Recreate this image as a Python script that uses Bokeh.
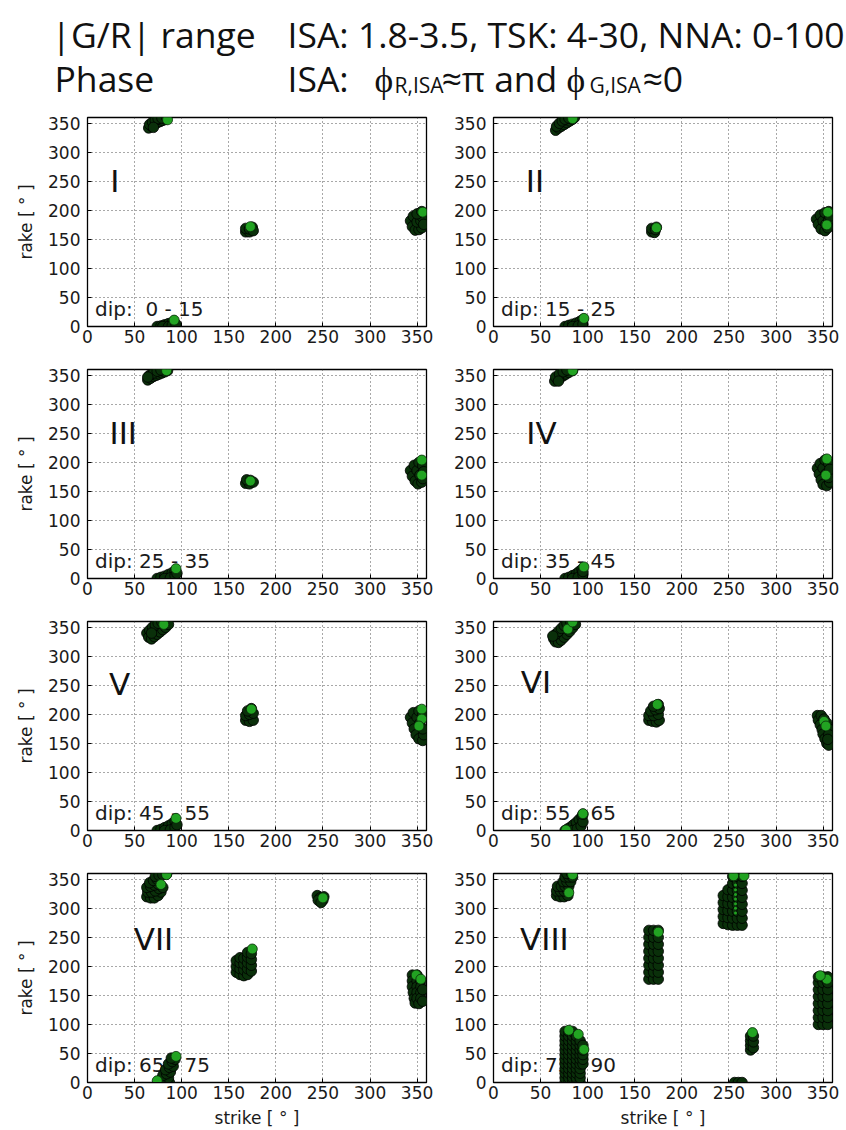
from bokeh.plotting import figure
from bokeh.layouts import column, row
from bokeh.models import Range1d, FixedTicker
from bokeh.core.properties import value
from bokeh.embed import file_html
from bokeh.resources import INLINE

# ---------------- data ----------------
axis_ticks = [0, 50, 100, 150, 200, 250, 300, 350]
panel_names = ["I", "II", "III", "IV", "V", "VI", "VII", "VIII"]
dip_labels = ["dip:\u00a0\u00a00 - 15", "dip: 15 - 25", "dip: 25 - 35", "dip: 35 - 45",
              "dip: 45 - 55", "dip: 55 - 65", "dip: 65 - 75", "dip: 75 - 90"]
name_strike = [29, 44, 38, 51, 34, 45, 70, 54]
name_rake = [250, 250, 250, 250, 253, 255, 247, 247]

dark_I = [(65,342),(68,345),(71,348),(74,351),(77,353),(80,355),(83,357),(66,348),(69,352),(72,355),(75,358),(79,359),(84,360),(70,343),
          (74,0),(78,1),(82,3),(86,5),(90,7),(80,0),(86,0),(90,2),(94,4),
          (168,163),(172,163),(168,169),(172,168),(175,171),(176,165),
          (343,182),(345,172),(348,166),(352,167),(355,170),(346,190),(350,180),(354,182),(356,188),(350,194),(355,198),(357,176)]
bright_I = [(85,356),(92,11),(173,172),(356,197)]

dark_II = [(66,338),(69,342),(72,345),(75,348),(78,351),(81,354),(84,357),(67,345),(70,350),(73,354),(76,357),(80,359),(86,360),
           (76,0),(80,2),(84,4),(88,6),(92,9),(95,12),(84,0),(90,1),(95,4),
           (168,163),(171,162),(168,169),(172,167),(173,171),
           (343,185),(345,176),(348,168),(352,165),(355,170),(347,192),(350,182),(353,176),(356,184),(352,196),(356,198),(357,190)]
bright_II = [(84,358),(96,14),(173,170),(355,197),(354,175)]

dark_III = [(64,342),(67,345),(70,348),(73,350),(76,352),(79,354),(82,356),(85,358),(66,350),(70,354),(74,357),(78,359),(64,347),
            (74,0),(78,2),(82,4),(86,7),(90,10),(93,13),(82,0),(88,1),(93,5),(95,9),
            (168,164),(172,163),(169,170),(173,169),(176,166),
            (343,186),(345,176),(348,168),(351,163),(355,166),(347,195),(350,186),(353,178),(356,172),(352,200),(356,194),(357,184)]
bright_III = [(84,358),(94,17),(173,168),(355,204),(355,178)]

dark_IV = [(65,340),(68,343),(71,346),(74,349),(77,352),(80,355),(84,358),(66,347),(70,352),(74,356),(78,359),(69,340),
           (76,0),(80,2),(84,5),(88,8),(91,12),(94,16),(84,0),(90,2),(95,7),(95,12),
           (344,190),(346,180),(348,170),(350,162),(354,160),(357,166),(347,198),(350,190),(353,180),(356,174),(352,204),(356,198),(357,188)]
bright_IV = [(84,358),(96,20),(354,206),(353,178)]

dark_V = [(63,340),(65,333),(68,330),(71,334),(74,338),(77,342),(80,346),(83,350),(86,355),(66,345),(69,350),(72,354),(75,357),(79,359),(68,340),
          (74,0),(78,2),(82,5),(86,8),(90,12),(93,16),(82,0),(88,1),(93,5),(95,10),
          (168,190),(172,188),(176,190),(168,198),(172,200),(176,202),(170,206),(174,210),
          (343,195),(345,185),(347,175),(349,165),(352,158),(356,155),(357,165),(346,203),(350,195),(353,185),(356,175),(352,206),(356,200)]
bright_V = [(81,355),(94,21),(174,209),(355,209),(355,192),(352,180)]

dark_VI = [(64,330),(66,325),(69,324),(72,328),(75,333),(78,338),(81,343),(84,349),(87,355),(66,338),(69,343),(72,348),(75,353),(78,357),(82,359),(63,335),
           (76,0),(79,3),(82,6),(85,10),(88,14),(91,19),(94,24),(84,0),(89,3),(93,8),(95,15),(95,28),
           (165,190),(169,188),(173,187),(176,190),(165,198),(170,198),(175,200),(167,206),(172,208),(176,210),(170,214),(175,217),
           (344,198),(345,190),(347,182),(349,174),(350,166),(352,158),(354,150),(356,147),(348,198),(351,192),(354,185),(356,175),(356,165),(355,157)]
bright_VI = [(79,347),(84,359),(95,29),(77,1),(174,217),(351,188),(353,180)]

dark_VII = [(63,320),(67,318),(71,318),(75,322),(78,328),(64,328),(68,328),(72,330),(76,334),(80,336),(63,336),(67,338),(71,340),(75,342),(66,344),(70,348),(74,350),(72,355),(76,357),(80,358),(84,359),
            (75,0),(79,0),(83,0),(87,0),(78,5),(82,6),(86,8),(80,12),(84,15),(88,18),(83,22),(87,26),(91,28),(86,32),(90,36),(93,40),(89,42),
            (158,190),(158,200),(158,210),(162,186),(162,196),(162,206),(162,215),(166,184),(166,194),(166,204),(166,214),(170,186),(170,196),(170,206),(170,216),(170,224),(174,192),(174,202),(174,212),(174,222),
            (244,322),(247,318),(250,314),(245,314),(248,310),(251,320),
            (345,185),(345,175),(345,165),(346,155),(347,145),(348,137),(350,185),(350,175),(350,165),(350,155),(350,145),(352,136),(354,175),(354,165),(354,155),(354,145),(356,140),(356,160)]
bright_VII = [(78,341),(84,358),(94,45),(74,3),(175,230),(250,318),(349,185),(354,178)]

dark_VIII = [(67,322),(71,320),(75,320),(79,322),(67,330),(71,330),(75,330),(79,330),(68,338),(72,338),(76,338),(80,338),(74,346),(78,346),(82,346),(76,354),(80,354),(84,354),(78,360),(83,360),
             (76,0),(76,8),(76,16),(76,24),(76,32),(76,40),(76,48),(76,56),(76,64),(76,72),(76,80),(76,88),
             (80,0),(80,8),(80,16),(80,24),(80,32),(80,40),(80,48),(80,56),(80,64),(80,72),(80,80),(80,88),
             (84,0),(84,8),(84,16),(84,24),(84,32),(84,40),(84,48),(84,56),(84,64),(84,72),(84,80),(84,88),
             (88,0),(88,8),(88,16),(88,24),(88,32),(88,40),(88,48),(88,56),(88,64),(88,72),(88,80),
             (92,0),(92,8),(92,16),(92,24),(92,32),(92,40),(92,48),(92,56),(92,64),(92,72),
             (95,32),(95,40),(95,48),(95,56),(95,64),
             (165,178),(165,190),(165,202),(165,214),(165,226),(165,238),(165,250),(165,262),
             (170,178),(170,190),(170,202),(170,214),(170,226),(170,238),(170,250),(170,262),
             (175,178),(175,190),(175,202),(175,214),(175,226),(175,238),(175,250),(175,262),
             (244,274),(244,286),(244,298),(244,310),(244,322),
             (249,272),(249,284),(249,296),(249,308),(249,320),(249,332),
             (254,271),(254,283),(254,295),(254,307),(254,319),(254,331),(254,343),(254,355),
             (259,271),(259,283),(259,295),(259,307),(259,319),(259,331),(259,343),(259,355),
             (264,271),(264,283),(264,295),(264,307),(264,319),(264,331),(264,343),(264,355),
             (273,56),(273,64),(273,72),(273,80),(276,60),(276,70),(276,80),
             (256,0),(260,0),(264,0),
             (345,100),(345,112),(345,124),(345,136),(345,148),(345,160),(345,172),(345,182),
             (350,100),(350,112),(350,124),(350,136),(350,148),(350,160),(350,172),(350,182),
             (355,100),(355,112),(355,124),(355,136),(355,148),(355,160),(355,172),(355,182)]
bright_VIII = [(80,327),(84,358),(80,90),(90,83),(96,57),(175,259),(255,356),(266,356),(275,86),(354,178),(347,184)]
trace_VIII = [(257,292),(257,300),(257,308),(257,316),(257,324),(257,332),(257,340)]

dark_sets = [dark_I, dark_II, dark_III, dark_IV, dark_V, dark_VI, dark_VII, dark_VIII]
bright_sets = [bright_I, bright_II, bright_III, bright_IV, bright_V, bright_VI, bright_VII, bright_VIII]
trace_sets = [[], [], [], [], [], [], [], trace_VIII]

# ---------------- styling ----------------
FONT = "DejaVu Sans"
DARK_FILL = "#0a300a"
BRIGHT_FILL = "#22a322"
FRAME_W, FRAME_H = 339, 209


def make_panel(i):
    left = (i % 2 == 0)
    bottom = (i >= 6)
    p = figure(frame_width=FRAME_W, frame_height=FRAME_H,
               x_range=Range1d(0, 360), y_range=Range1d(0, 360),
               output_backend="svg", toolbar_location=None,
               min_border_left=87 if left else 59,
               min_border_right=8 if left else 13,
               min_border_top=9,
               min_border_bottom=46 if bottom else 34,
               background_fill_color="white", border_fill_color="white")
    p.outline_line_color = "black"
    p.outline_line_width = 1.3
    for ax in (p.xaxis, p.yaxis):
        ax.ticker = FixedTicker(ticks=axis_ticks)
        ax.minor_tick_line_color = None
        ax.major_tick_in = 4
        ax.major_tick_out = 0
        ax.major_tick_line_color = "black"
        ax.axis_line_color = "black"
        ax.major_label_text_font = FONT
        ax.major_label_text_font_size = "17px"
        ax.major_label_text_color = "#1a1a1a"
        ax.axis_label_text_font = FONT
        ax.axis_label_text_font_size = "17px"
        ax.axis_label_text_font_style = "normal"
        ax.axis_label_text_color = "#1a1a1a"
    p.xaxis.major_label_standoff = 3
    p.yaxis.major_label_standoff = 7
    if left:
        p.yaxis.axis_label = "rake [ ° ]"
        p.yaxis.axis_label_standoff = 9
    if bottom:
        p.xaxis.axis_label = "strike [ ° ]"
        p.xaxis.axis_label_standoff = 6
    p.grid.ticker = FixedTicker(ticks=axis_ticks)
    p.grid.grid_line_color = "#333333"
    p.grid.grid_line_dash = "1 3"
    p.grid.grid_line_width = 1
    p.grid.grid_line_alpha = 0.85

    p.text(x=[8], y=[31], text=[dip_labels[i]], text_font=value(FONT),
           text_font_size="20px", text_color="#1a1a1a",
           text_align="left", text_baseline="middle")
    p.text(x=[name_strike[i]], y=[name_rake[i]], text=[panel_names[i]],
           text_font=value(FONT), text_font_size="31px", text_color="#111111",
           text_align="center", text_baseline="middle")

    d = dark_sets[i]
    p.scatter([q[0] for q in d], [q[1] for q in d], size=10.5,
              fill_color=DARK_FILL, line_color="black", line_width=0.8)
    t = trace_sets[i]
    if t:
        p.scatter([q[0] for q in t], [q[1] for q in t], size=3,
                  fill_color=BRIGHT_FILL, line_color=None)
    b = bright_sets[i]
    p.scatter([q[0] for q in b], [q[1] for q in b], size=10,
              fill_color=BRIGHT_FILL, line_color="#0a2a0a", line_width=0.8)
    return p


# ---------------- title ----------------
TW, TH = 846, 108
head = figure(width=TW, height=TH, x_range=Range1d(0, TW), y_range=Range1d(TH, 0),
              output_backend="svg", toolbar_location=None,
              x_axis_type=None, y_axis_type=None, min_border=0,
              outline_line_color=None, background_fill_color="white",
              border_fill_color="white")

TFONT = value("Open Sans")
BIG = "35.5px"
SMALL = "21px"
head.text(x=[51, 287, 54, 287, 374, 441, 566, 642], y=[33, 33, 77, 77, 77, 77, 77, 77],
          text=["|G/R| range", "ISA: 1.8-3.5, TSK: 4-30, NNA: 0-100", "Phase", "ISA:",
                "ϕ", "≈π and", "ϕ", "≈0"],
          text_font=TFONT, text_font_size=BIG, text_color="#111111",
          text_align="left", text_baseline="alphabetic")
head.text(x=[394, 589], y=[84, 84], text=["R,ISA", "G,ISA"],
          text_font=TFONT, text_font_size=SMALL, text_color="#111111",
          text_align="left", text_baseline="alphabetic")

panels = [make_panel(i) for i in range(8)]
layout = column(head,
                row(panels[0], panels[1]),
                row(panels[2], panels[3]),
                row(panels[4], panels[5]),
                row(panels[6], panels[7]))

open("out.html", "w").write(file_html(layout, INLINE))
